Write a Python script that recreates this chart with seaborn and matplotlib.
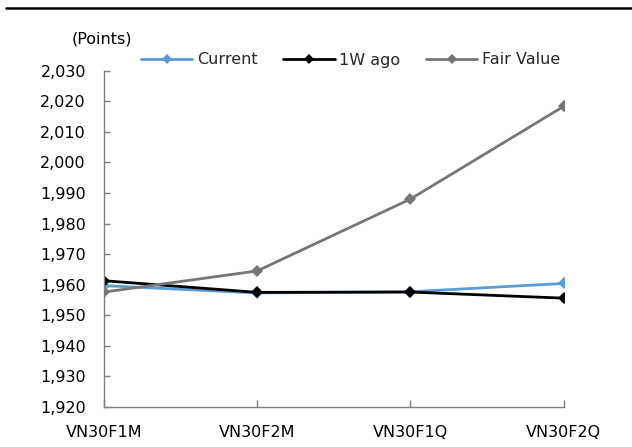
import matplotlib
matplotlib.use("Agg")
import matplotlib.pyplot as plt
import seaborn as sns
import pandas as pd
from matplotlib.ticker import FuncFormatter
from matplotlib.lines import Line2D

categories = ["VN30F1M", "VN30F2M", "VN30F1Q", "VN30F2Q"]
current = [1959.7, 1957.3, 1957.7, 1960.4]
week_ago = [1961.3, 1957.5, 1957.6, 1955.6]
fair_value = [1957.6, 1964.5, 1988.0, 2018.3]
series_names = ["Current", "1W ago", "Fair Value"]
y_ticks = list(range(1920, 2031, 10))

colors = {"Current": "#5B9BD5", "1W ago": "#000000", "Fair Value": "#767676"}

sns.set_theme(style="white")
plt.rcParams['font.family'] = ['DejaVu Sans']

W, H = 632, 447
fig = plt.figure(figsize=(W / 100, H / 100), dpi=100)
ax = fig.add_axes([104 / W, 1 - 407 / H, (563.5 - 104) / W, (407 - 70.7) / H])

df = pd.DataFrame({
    "cat": categories * 3,
    "x": list(range(len(categories))) * 3,
    "val": current + week_ago + fair_value,
    "series": sum([[s] * len(categories) for s in series_names], []),
})

for s in series_names:
    sub = df[df["series"] == s]
    sns.lineplot(data=sub, x="x", y="val", color=colors[s], marker="D",
                 markersize=6, markeredgewidth=0, linewidth=2, ax=ax,
                 legend=False, sort=False)

ax.set_xlim(0, len(categories) - 1)
ax.set_ylim(1920, 2030)
ax.set_xticks(range(len(categories)))
ax.set_xticklabels(categories)
ax.set_yticks(y_ticks)
ax.yaxis.set_major_formatter(FuncFormatter(lambda v, p: f"{int(v):,}"))
ax.set_xlabel("")
ax.set_ylabel("")

for sp in ["top", "right"]:
    ax.spines[sp].set_visible(False)
for sp in ["left", "bottom"]:
    ax.spines[sp].set_color("#7f7f7f")
    ax.spines[sp].set_linewidth(1)

ax.tick_params(axis="y", direction="in", length=4, width=1, color="#7f7f7f",
               labelsize=11.5, pad=13, labelcolor="black", left=True)
ax.tick_params(axis="x", direction="in", length=5, width=1, color="#7f7f7f",
               labelsize=11.5, pad=13, labelcolor="black", bottom=True)

handles = [Line2D([], [], color=colors[s], marker="D", markersize=5,
                  markeredgewidth=0, linewidth=2) for s in series_names]
fig.legend(handles, series_names, loc="center left",
           bbox_to_anchor=(141 / W, 1 - 60 / H), ncol=3, frameon=False,
           fontsize=11.5, handlelength=3.2, handletextpad=0.3,
           columnspacing=1.62, borderpad=0, borderaxespad=0)

fig.text(102 / W, 1 - 39 / H, "(Points)", ha="center", va="center",
         fontsize=11.5, color="black")

fig.add_artist(Line2D([6 / W, 1], [1 - 8 / H, 1 - 8 / H], color="black",
                      linewidth=1.8, transform=fig.transFigure))

fig.savefig("out.png", dpi=100)
